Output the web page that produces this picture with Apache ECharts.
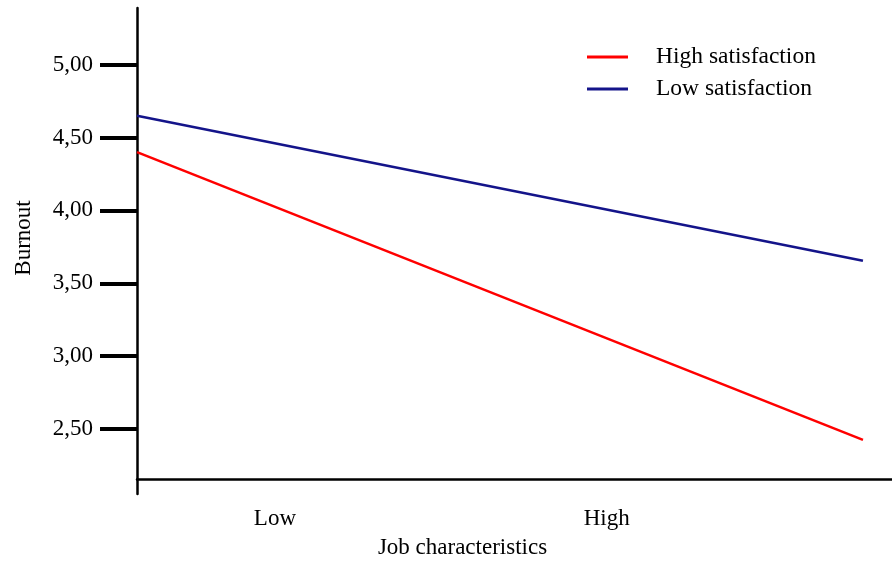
<!DOCTYPE html>
<html>
<head>
<meta charset="utf-8">
<script src="https://cdn.jsdelivr.net/npm/echarts@6/dist/echarts.min.js"></script>
<style>
html,body{margin:0;padding:0;background:#fff;}
#chart{width:892px;height:564px;}
</style>
</head>
<body>
<div id="chart"></div>
<script>
// Data
const seriesNames = ['High satisfaction', 'Low satisfaction'];
const xPoints = [0, 1];                 // low / high level of job characteristics (line endpoints)
const highSatisfaction = [4.40, 2.425];
const lowSatisfaction = [4.65, 3.655];
const yTickValues = [2.5, 3.0, 3.5, 4.0, 4.5, 5.0];
const xTickLabels = ['Low', 'High'];
const xTickValues = [0.19, 0.647];

const FONT = "'Liberation Serif', 'Times New Roman', serif";
const chart = echarts.init(document.getElementById('chart'), null, {renderer: 'canvas'});

function pairs(xs, ys) { return xs.map((x, i) => [x, ys[i]]); }

chart.setOption({
  animation: false,
  backgroundColor: '#ffffff',
  grid: {left: 137, right: 0, top: 8, bottom: 67, containLabel: false},
  legend: {
    data: seriesNames,
    orient: 'vertical',
    left: 582,
    top: 40,
    icon: 'rect',
    itemWidth: 41,
    itemHeight: 3,
    itemGap: 8,
    textStyle: {fontFamily: FONT, fontSize: 23.5, color: '#000', padding: [0, 0, 0, 23]}
  },
  xAxis: {
    type: 'value',
    min: 0,
    max: 1.04,
    offset: -15,
    splitLine: {show: false},
    axisLine: {show: true, onZero: false, lineStyle: {color: '#000', width: 2.5}},
    axisTick: {show: false},
    axisLabel: {
      customValues: xTickValues,
      margin: 28,
      fontFamily: FONT, fontSize: 23, color: '#000',
      formatter: function (v) {
        const i = xTickValues.findIndex(t => Math.abs(t - v) < 1e-6);
        return i >= 0 ? xTickLabels[i] : '';
      }
    },
    name: 'Job characteristics',
    nameLocation: 'middle',
    nameGap: 57,
    nameTextStyle: {fontFamily: FONT, fontSize: 23, color: '#000', padding: [0, 104, 0, 0]}
  },
  yAxis: {
    type: 'value',
    min: 2.054,
    max: 5.389,
    splitLine: {show: false},
    axisLine: {show: true, onZero: false, lineStyle: {color: '#000', width: 2.5}},
    axisTick: {show: true, customValues: yTickValues, length: 37, lineStyle: {color: '#000', width: 4}},
    axisLabel: {
      customValues: yTickValues,
      margin: 44,
      fontFamily: FONT, fontSize: 23, color: '#000',
      formatter: v => v.toFixed(2).replace('.', ',')
    },
    name: 'Burnout',
    nameLocation: 'middle',
    nameRotate: 90,
    nameGap: 102,
    nameTextStyle: {fontFamily: FONT, fontSize: 23, color: '#000', padding: [0, 0, 0, 26]}
  },
  series: [
    {
      name: seriesNames[0], type: 'line', showSymbol: false,
      color: '#ff0000',
      lineStyle: {color: '#ff0000', width: 2.5},
      data: pairs(xPoints, highSatisfaction)
    },
    {
      name: seriesNames[1], type: 'line', showSymbol: false,
      color: '#14148a',
      lineStyle: {color: '#14148a', width: 2.5},
      data: pairs(xPoints, lowSatisfaction)
    }
  ]
});
</script>
</body>
</html>
